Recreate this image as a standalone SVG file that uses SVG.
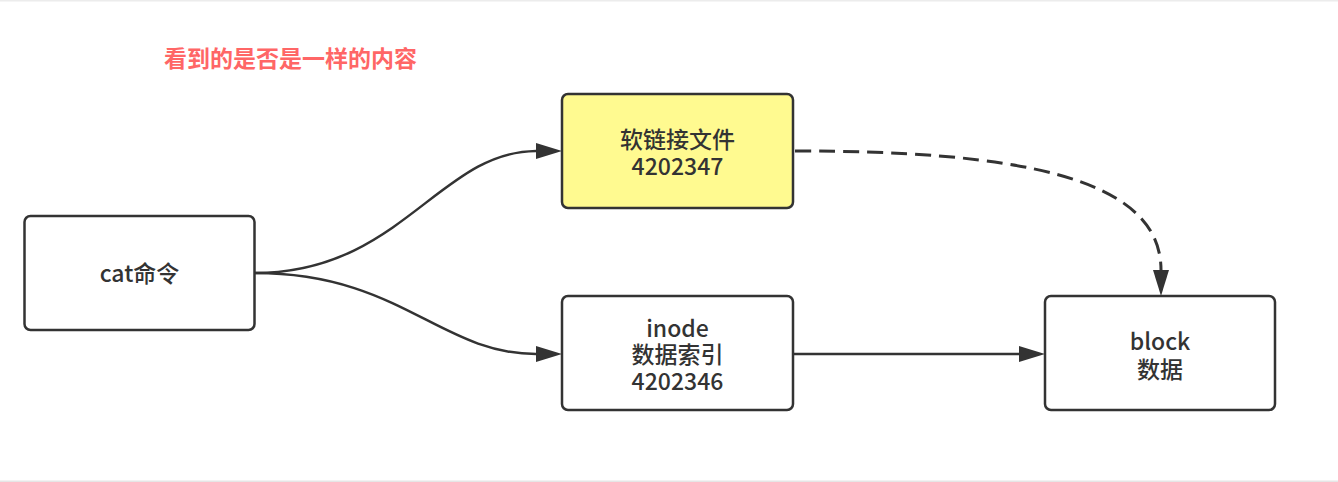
<svg xmlns="http://www.w3.org/2000/svg" width="1338" height="482" viewBox="0 0 1338 482">
<style>
.box{fill:#ffffff;stroke:#333333;stroke-width:2.5}
.yellow{fill:#fffa90}
.t{font-family:"Noto Sans CJK SC","Noto Sans",sans-serif;font-size:23px;font-weight:500;fill:#333333;text-anchor:middle}
.title{font-family:"Noto Sans CJK SC","Noto Sans",sans-serif;font-size:23px;font-weight:bold;fill:#ff6666}
.edge{fill:none;stroke:#333333;stroke-width:2.5}
.dash{stroke-dasharray:16 8;stroke-width:3}
</style>
<defs>
<marker id="arrow" viewBox="0 0 26 16" refX="0" refY="8" markerWidth="26" markerHeight="16" markerUnits="userSpaceOnUse" orient="auto">
<path d="M0,0 L26,8 L0,16 Z" fill="#333333"/>
</marker>
</defs>
<rect x="0" y="0" width="1338" height="482" fill="#ffffff"/>
<rect x="0" y="0" width="1338" height="1.5" fill="#ececec"/>
<rect x="0" y="480.5" width="1338" height="1.5" fill="#e6e6e6"/>
<text class="title" x="164" y="67">看到的是否是一样的内容</text>
<g id="connectors">
<path class="edge" d="M255,273 C400,273 440,151 536,151" marker-end="url(#arrow)"/>
<path class="edge" d="M255,273 C400,273 440,354 536,354" marker-end="url(#arrow)"/>
<path class="edge" d="M793,354 L1019,354" marker-end="url(#arrow)"/>
<path class="edge dash" d="M795,151 C1010,151 1161,175 1161,270" marker-end="url(#arrow)"/>
</g>
<g id="cat">
<rect class="box" x="24.5" y="216" width="230" height="114" rx="6"/>
<text class="t" x="139.5" y="282">cat命令</text>
</g>
<g id="softlink">
<rect class="box yellow" x="562" y="94" width="231" height="114" rx="6"/>
<text class="t" x="677.5" y="148">软链接文件</text>
<text class="t" x="677.5" y="175">4202347</text>
</g>
<g id="inode">
<rect class="box" x="562" y="296" width="231" height="114" rx="6"/>
<text class="t" x="677.5" y="337">inode</text>
<text class="t" x="677.5" y="363">数据索引</text>
<text class="t" x="677.5" y="390">4202346</text>
</g>
<g id="block">
<rect class="box" x="1045" y="296" width="230" height="114" rx="6"/>
<text class="t" x="1160" y="350">block</text>
<text class="t" x="1160" y="378">数据</text>
</g>
</svg>
